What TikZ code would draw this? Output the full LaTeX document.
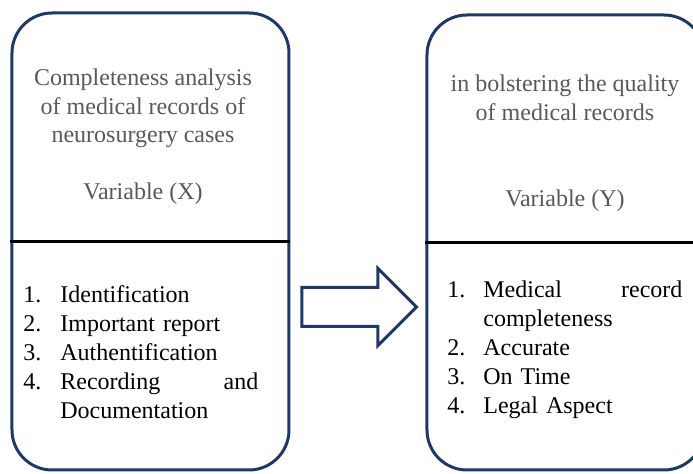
\documentclass[tikz,border=0pt]{standalone}
\usepackage{fontspec}
\setmainfont{Liberation Serif}
\usetikzlibrary{shapes.arrows}
\definecolor{boxnavy}{RGB}{31,56,100}
\definecolor{headgray}{RGB}{89,89,89}
\begin{document}
\begin{tikzpicture}[x=0.5pt,y=-0.5pt,
varbox/.style={draw=boxnavy,line width=1.5pt,rounded corners=20pt,minimum width=138.5pt},
headtext/.style={anchor=base,align=center,text=headgray,inner sep=0pt,font=\fontsize{12pt}{14.25pt}\selectfont},
listtext/.style={anchor=base west,align=left,text width=117.5pt,inner sep=0pt,font=\fontsize{12pt}{14.4pt}\selectfont},
divider/.style={line width=1.5pt,black}]
\useasboundingbox (0,0) rectangle (693,474);
\node[varbox,minimum height=228.5pt] (lbox) at (150.5,241.5) {};
\node[varbox,minimum height=227.5pt] (rbox) at (565.5,242.5) {};
\draw[divider] (lbox.west) -- (lbox.east);
\draw[divider] (rbox.west) -- (rbox.east);
\node[headtext] (lhead) at (143,200) {Completeness analysis\\ of medical records of\\ neurosurgery cases\\[14.25pt] Variable (X)};
\node[headtext] (rhead) at (565,207) {in bolstering the quality\\ of medical records\\[29pt] Variable (Y)};
\node[listtext] (llist) at (23,303) {\makebox[18.5pt][l]{1.}Identification\\
\makebox[18.5pt][l]{2.}Important report\\
\makebox[18.5pt][l]{3.}Authentification\\
\makebox[18.5pt][l]{4.}Recording\hfill and\\
\hspace*{18.5pt}Documentation};
\node[listtext,text width=117.5pt] (rlist) at (447,298) {\makebox[18pt][l]{1.}Medical\hfill record\\
\hspace*{18pt}completeness\\
\makebox[18pt][l]{2.}Accurate\\
\makebox[18pt][l]{3.}On Time\\
\makebox[18pt][l]{4.}Legal Aspect};
\node[single arrow,draw=boxnavy,line width=1.5pt,inner sep=0pt,text height=9pt,text depth=9pt,
single arrow head extend=9.5pt,single arrow head indent=0pt,minimum height=57.25pt,anchor=tail] (flow) at (300.5,307) {};
\end{tikzpicture}
\end{document}
